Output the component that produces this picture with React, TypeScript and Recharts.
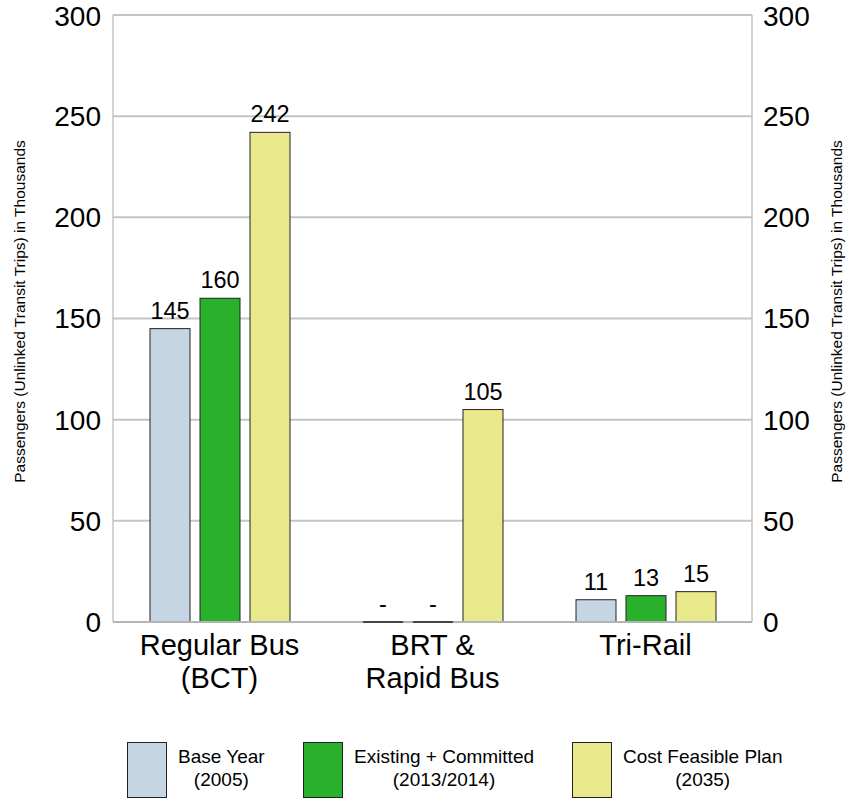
import React from "react"
import { ComposedChart, Bar, Line, XAxis, YAxis, CartesianGrid, LabelList } from "recharts"

const categories = ["Regular Bus\n(BCT)", "BRT &\nRapid Bus", "Tri-Rail"]
const baseYear = [145, 0, 11]
const existingCommitted = [160, 0, 13]
const costFeasible = [242, 105, 15]
const yTicks = [0, 50, 100, 150, 200, 250, 300]

const seriesNames = ["Base Year\n(2005)", "Existing + Committed\n(2013/2014)", "Cost Feasible Plan\n(2035)"]
const seriesColors = ["#c5d5e4", "#29b12b", "#e9e98b"]
const seriesKeys = ["base", "existing", "plan"]

const data = categories.map((name, i) => ({
  name,
  base: baseYear[i],
  existing: existingCommitted[i],
  plan: costFeasible[i],
}))

const FONT = "'Liberation Sans', Arial, sans-serif"
const AXIS_TITLE = "Passengers (Unlinked Transit Trips) in Thousands"

const BarShape = (props: any) => {
  const { x, y, width, height, fill } = props
  if (!height || height <= 0) return null
  return <rect x={x} y={y} width={width} height={height} fill={fill} stroke="#222" strokeWidth={1} />
}

const CategoryTick = ({ x, y, payload }: any) => {
  const lines = String(payload.value).split("\n")
  return (
    <text x={x} y={y} textAnchor="middle" fontSize={29} fill="#000" fontFamily={FONT}>
      {lines.map((l, i) => (
        <tspan key={i} x={x} dy={i === 0 ? 25 : 33}>
          {l}
        </tspan>
      ))}
    </text>
  )
}

// zero values: flat dark line on the baseline plus a dash label
const ValueLabel = (props: any) => {
  const { x, y, width, value } = props
  return (
    <g>
      {value === 0 && <line x1={x} x2={x + width} y1={y} y2={y} stroke="#222" strokeWidth={1.5} />}
      <text x={x + width / 2} y={y - 10} textAnchor="middle" fontSize={23.5} fill="#000" fontFamily={FONT}>
        {value === 0 ? "-" : value}
      </text>
    </g>
  )
}

const axisTitle = (dx: number) => (props: any) => {
  const vb = props.viewBox
  const cx = vb.x + dx
  const cy = vb.y + vb.height / 2 - 7
  return (
    <text
      x={cx}
      y={cy}
      transform={`rotate(-90, ${cx}, ${cy})`}
      textAnchor="middle"
      dominantBaseline="central"
      fontSize={15.5}
      fill="#000"
      fontFamily={FONT}
    >
      {AXIS_TITLE}
    </text>
  )
}

const legendX = [127, 303, 572]

export default function App() {
  return (
    <div style={{ position: "absolute", left: 0, top: 0, width: 859, height: 801, background: "#fff", fontFamily: FONT }}>
      <ComposedChart
        width={859}
        height={801}
        data={data}
        margin={{ top: 15, right: 0, left: 0, bottom: 79 }}
        barSize={40}
        barGap={10}
      >
        <CartesianGrid vertical={false} stroke="#c4c4c4" strokeWidth={2} yAxisId="left" />
        <XAxis
          dataKey="name"
          height={100}
          tick={<CategoryTick />}
          tickLine={false}
          axisLine={{ stroke: "#b4b4b4", strokeWidth: 2 }}
          interval={0}
        />
        <YAxis
          yAxisId="left"
          width={113}
          domain={[0, 300]}
          ticks={yTicks}
          tickLine={false}
          tickMargin={6}
          axisLine={{ stroke: "#c4c4c4", strokeWidth: 1.5 }}
          tick={{ fontSize: 28, fill: "#000", fontFamily: FONT }}
          label={{ content: axisTitle(19) }}
        />
        <YAxis
          yAxisId="right"
          orientation="right"
          width={107}
          domain={[0, 300]}
          ticks={yTicks}
          tickLine={false}
          tickMargin={5}
          axisLine={{ stroke: "#c4c4c4", strokeWidth: 1.5 }}
          tick={{ fontSize: 28, fill: "#000", fontFamily: FONT }}
          label={{ content: axisTitle(84) }}
        />
        {seriesKeys.map((k, i) => (
          <Bar
            key={k}
            yAxisId="left"
            dataKey={k}
            fill={seriesColors[i]}
            shape={<BarShape />}
            isAnimationActive={false}
          >
            <LabelList dataKey={k} content={<ValueLabel />} />
          </Bar>
        ))}
        <Line
          yAxisId="right"
          dataKey="plan"
          stroke="none"
          dot={false}
          activeDot={false}
          legendType="none"
          isAnimationActive={false}
        />
      </ComposedChart>
      {seriesNames.map((name, i) => {
        const lines = name.split("\n")
        return (
          <div
            key={name}
            style={{ position: "absolute", left: legendX[i], top: 742, display: "flex", alignItems: "flex-start" }}
          >
            <div
              style={{
                width: 40,
                height: 56,
                background: seriesColors[i],
                border: "1px solid #222",
                boxSizing: "border-box",
              }}
            />
            <div style={{ marginLeft: 11, marginTop: 3, fontSize: 19, lineHeight: "23px", textAlign: "center", color: "#000" }}>
              {lines.map((l) => (
                <div key={l}>{l}</div>
              ))}
            </div>
          </div>
        )
      })}
    </div>
  )
}
